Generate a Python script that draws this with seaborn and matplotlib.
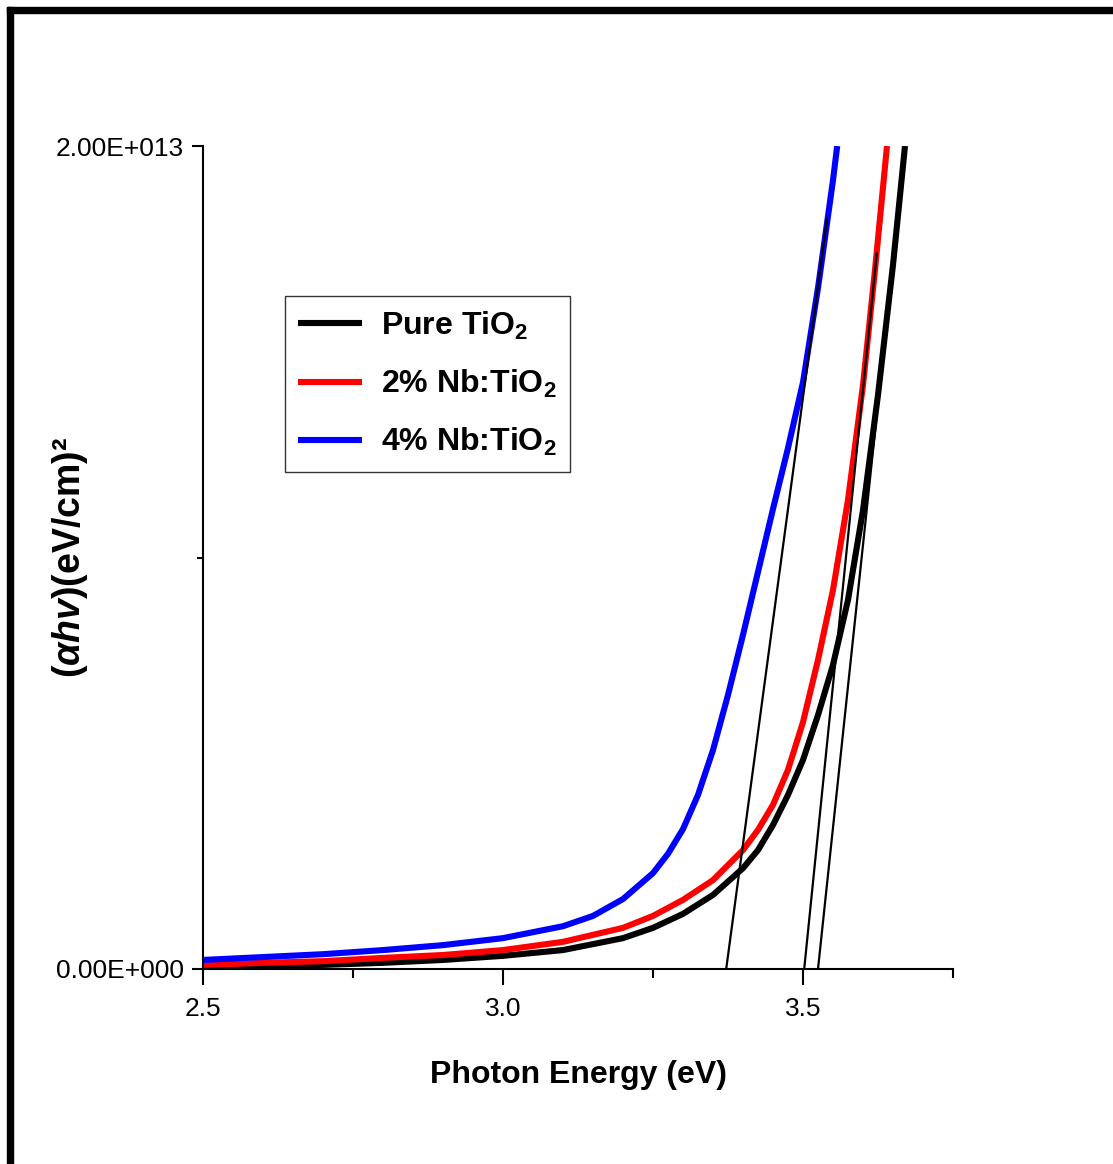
import numpy as np
import pandas as pd
import seaborn as sns
import matplotlib.pyplot as plt
from matplotlib.patches import Rectangle
from matplotlib.ticker import FixedLocator

# Dados (energia em eV, (alpha h nu)^2 em unidades de 1e12)
e_pure = [2.5, 2.6, 2.7, 2.8, 2.9, 3.0, 3.1, 3.2, 3.25, 3.3, 3.35, 3.4, 3.425, 3.45,
          3.475, 3.5, 3.525, 3.55, 3.575, 3.6, 3.625, 3.65, 3.67]
v_pure = [0.05, 0.07, 0.10, 0.15, 0.22, 0.32, 0.46, 0.75, 1.00, 1.34, 1.80, 2.45, 2.89, 3.50,
          4.23, 5.08, 6.17, 7.39, 8.97, 11.15, 13.95, 17.11, 20.0]

e_nb2 = [2.5, 2.6, 2.7, 2.8, 2.9, 3.0, 3.1, 3.2, 3.25, 3.3, 3.35, 3.4, 3.425, 3.45,
         3.475, 3.5, 3.525, 3.55, 3.575, 3.6, 3.62, 3.64]
v_nb2 = [0.10, 0.15, 0.19, 0.27, 0.34, 0.46, 0.66, 1.00, 1.29, 1.68, 2.16, 2.89, 3.38, 3.99,
         4.84, 6.00, 7.51, 9.21, 11.40, 14.19, 16.99, 20.0]

e_nb4 = [2.5, 2.6, 2.7, 2.8, 2.9, 3.0, 3.1, 3.15, 3.2, 3.25, 3.275, 3.3, 3.325, 3.35, 3.375,
         3.4, 3.425, 3.45, 3.475, 3.5, 3.525, 3.55, 3.557]
v_nb4 = [0.22, 0.29, 0.36, 0.46, 0.58, 0.75, 1.04, 1.29, 1.70, 2.33, 2.80, 3.40, 4.23, 5.32, 6.66,
         8.12, 9.65, 11.18, 12.66, 14.26, 16.55, 19.17, 20.0]

# Retas tangentes (extrapolação do gap)
tan_nb4_e = [3.372, 3.540]
tan_nb4_v = [0.0, 18.23]
tan_nb2_e = [3.502, 3.623]
tan_nb2_v = [0.0, 17.40]
tan_pure_e = [3.525, 3.638]
tan_pure_v = [0.0, 15.53]

labels = ["Pure TiO$_2$", "2% Nb:TiO$_2$", "4% Nb:TiO$_2$"]
colors = ["black", "red", "blue"]

x_ticks = [2.5, 3.0, 3.5]
x_minor = [2.75, 3.25, 3.75]
y_ticks = [0.0, 2.0e13]
y_ticklabels = ["0.00E+000", "2.00E+013"]
y_minor = [1.0e13]

# Estilo
sns.set_theme(style="ticks")
fam = ["Liberation Sans", "DejaVu Sans"]
plt.rcParams["font.family"] = fam
plt.rcParams["text.color"] = "black"
plt.rcParams["axes.labelcolor"] = "black"
plt.rcParams["mathtext.fontset"] = "custom"
plt.rcParams["mathtext.default"] = "regular"
plt.rcParams["mathtext.it"] = "Liberation Sans:italic:bold"
plt.rcParams["lines.solid_joinstyle"] = "round"

fig = plt.figure(figsize=(11.13, 11.64), dpi=100)
ax = fig.add_axes([203 / 1113, 1 - 969 / 1164, 750 / 1113, 823 / 1164])

series = [(e_pure, v_pure), (e_nb2, v_nb2), (e_nb4, v_nb4)]
for (e, v), lab, col in zip(series, labels, colors):
    df = pd.DataFrame({"E": e, "V": np.array(v) * 1e12})
    sns.lineplot(data=df, x="E", y="V", color=col, lw=4.4, label=lab, ax=ax,
                 sort=False, solid_capstyle="butt")

for te, tv in [(tan_nb4_e, tan_nb4_v), (tan_nb2_e, tan_nb2_v), (tan_pure_e, tan_pure_v)]:
    df = pd.DataFrame({"E": te, "V": np.array(tv) * 1e12})
    sns.lineplot(data=df, x="E", y="V", color="black", lw=1.6, ax=ax, legend=False)

ax.set_xlim(2.5, 3.75)
ax.set_ylim(0, 2.0e13)

ax.set_xticks(x_ticks)
ax.set_xticklabels([f"{t:.1f}" for t in x_ticks])
ax.xaxis.set_minor_locator(FixedLocator(x_minor))
ax.set_yticks(y_ticks)
ax.set_yticklabels(y_ticklabels)
ax.yaxis.set_minor_locator(FixedLocator(y_minor))

ax.tick_params(axis="x", which="major", direction="out", length=11.5, width=1.5,
               labelsize=19, pad=9, color="black", labelcolor="black")
ax.tick_params(axis="x", which="minor", direction="out", length=6.5, width=1.5, color="black")
ax.tick_params(axis="y", which="major", direction="out", length=8, width=1.5,
               labelsize=19, pad=6, color="black", labelcolor="black")
ax.tick_params(axis="y", which="minor", direction="out", length=4, width=1.5, color="black")

for s in ["top", "right"]:
    ax.spines[s].set_visible(False)
for s in ["left", "bottom"]:
    ax.spines[s].set_linewidth(1.5)
    ax.spines[s].set_color("black")

ax.set_xlabel("Photon Energy (eV)", fontsize=23, weight="bold", labelpad=28)
ax.set_ylabel(r"($\mathit{\alpha hv}$)(eV/cm)²", fontsize=27, weight="bold")
ax.yaxis.set_label_coords(-0.15, 0.5)

leg = ax.legend(loc="upper left", bbox_to_anchor=(82 / 750, (969 - 296) / 823),
                borderaxespad=0, frameon=True, fancybox=False, edgecolor="black",
                prop={"size": 23, "weight": "bold", "family": fam},
                handlelength=2.0, handletextpad=0.6, labelspacing=0.82, borderpad=0.42)
leg.get_frame().set_linewidth(1.0)
for h in leg.get_lines():
    h.set_linewidth(4.4)

# Borda da figura (superior e esquerda)
fig.patches.append(Rectangle((7 / 1113, 1 - 13 / 1164), 1, 6 / 1164, transform=fig.transFigure,
                             color="black", zorder=10))
fig.patches.append(Rectangle((7 / 1113, 0), 6 / 1113, 1 - 7 / 1164, transform=fig.transFigure,
                             color="black", zorder=10))

fig.savefig("out.png", dpi=100)
